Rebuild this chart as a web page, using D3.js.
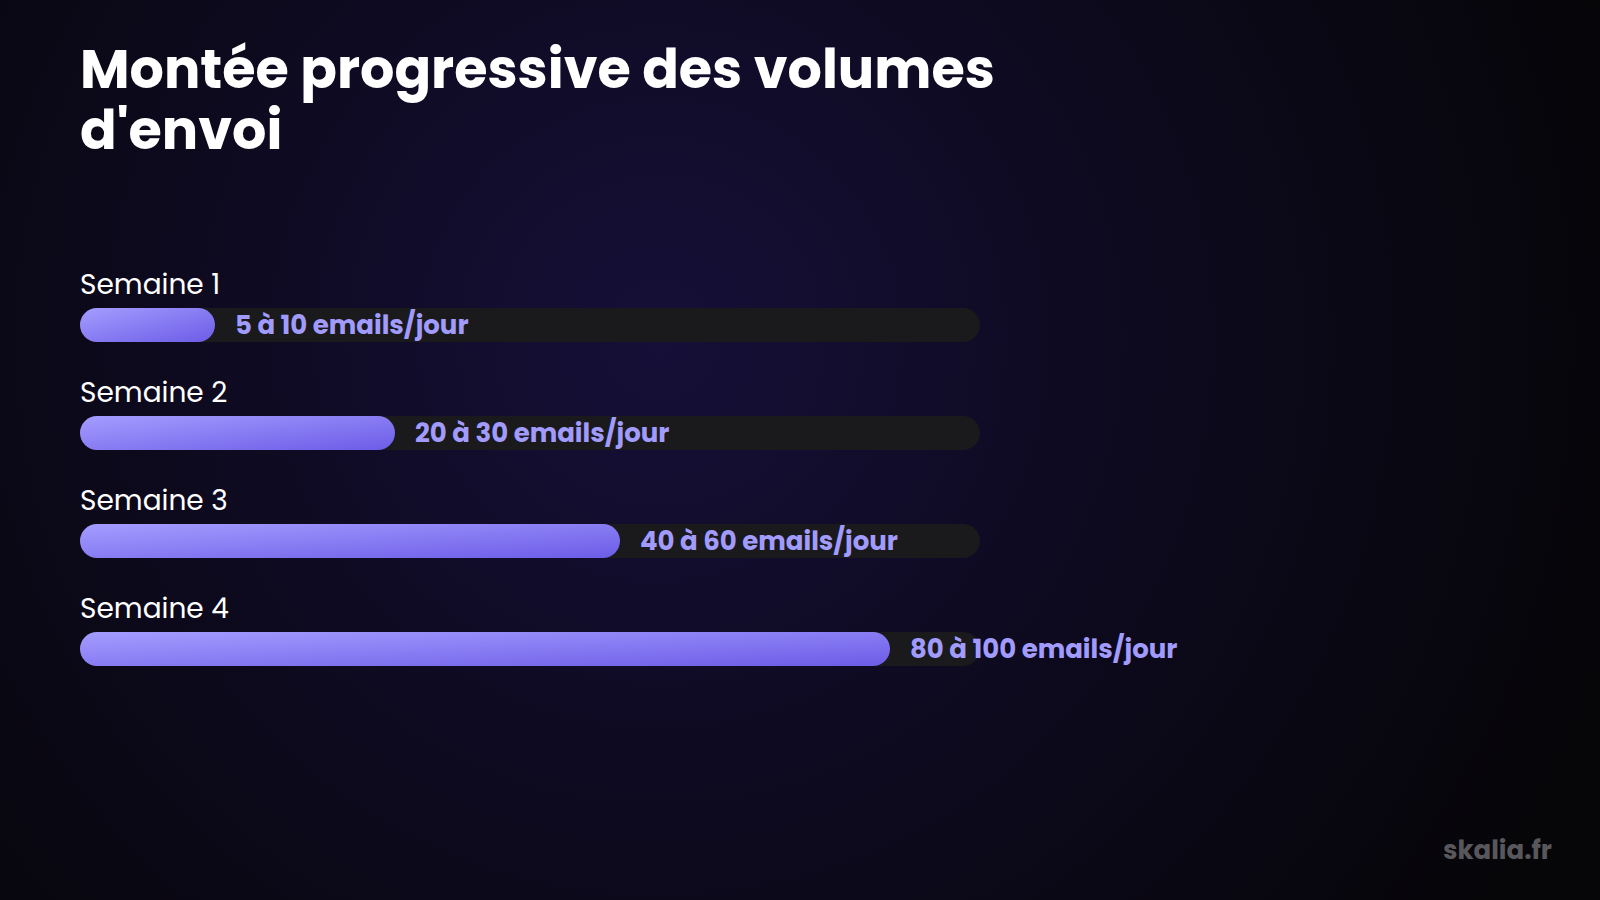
<!DOCTYPE html>
<html>
<head>
<meta charset="utf-8">
<script src="https://cdn.jsdelivr.net/npm/d3@7"></script>
<style>
  html, body { margin: 0; padding: 0; background: #07070b; }
  svg { display: block; }
</style>
</head>
<body>
<script>
// data
var titleLines = ["Montée progressive des volumes", "d'envoi"];
var weeks = ["Semaine 1", "Semaine 2", "Semaine 3", "Semaine 4"];
var progress = [15, 35, 60, 90];   // % of the track
var volumeLabels = ["5 à 10 emails/jour", "20 à 30 emails/jour", "40 à 60 emails/jour", "80 à 100 emails/jour"];
var brand = "skalia.fr";

var width = 1600, height = 900;
var margin = {left: 80};
var font = "Poppins, Inter, 'Open Sans', sans-serif";

var svg = d3.select("body").append("svg")
    .attr("width", width)
    .attr("height", height);

var defs = svg.append("defs");

// background glow
var bg = defs.append("radialGradient")
    .attr("id", "bg")
    .attr("gradientUnits", "userSpaceOnUse")
    .attr("cx", 660).attr("cy", 340).attr("r", 1000);
bg.append("stop").attr("offset", "0%").attr("stop-color", "#160f38");
bg.append("stop").attr("offset", "45%").attr("stop-color", "#0e0a20");
bg.append("stop").attr("offset", "100%").attr("stop-color", "#060508");

// bar fill
var fill = defs.append("linearGradient")
    .attr("id", "fill")
    .attr("x1", "0%").attr("y1", "0%")
    .attr("x2", "100%").attr("y2", "100%");
fill.append("stop").attr("offset", "0%").attr("stop-color", "#a49dff");
fill.append("stop").attr("offset", "100%").attr("stop-color", "#6c5ce7");

svg.append("rect")
    .attr("width", width).attr("height", height)
    .attr("fill", "url(#bg)");

// title, one text per line
svg.append("g")
    .selectAll("text")
    .data(titleLines)
    .join("text")
      .attr("x", margin.left)
      .attr("y", function(d, i) { return 88 + i * 61; })
      .attr("fill", "#ffffff")
      .style("font-family", font)
      .style("font-weight", 700)
      .style("font-size", "54px")
      .text(function(d) { return d; });

// scales
var x = d3.scaleLinear().domain([0, 100]).range([0, 900]);
var y = d3.scaleBand().domain(weeks).range([260, 260 + 108 * weeks.length]);
var barH = 34;

var rows = svg.append("g")
    .attr("transform", "translate(" + margin.left + ",0)")
    .selectAll("g")
    .data(weeks)
    .join("g")
      .attr("transform", function(d) { return "translate(0," + y(d) + ")"; });

rows.append("text")
    .attr("y", 34)
    .attr("fill", "#ffffff")
    .style("font-family", font)
    .style("font-size", "28px")
    .text(function(d) { return d; });

// track
rows.append("rect")
    .attr("y", 48)
    .attr("width", x(100))
    .attr("height", barH)
    .attr("rx", barH / 2)
    .attr("fill", "#1a1a1c");

// progress
rows.append("rect")
    .attr("y", 48)
    .attr("width", function(d, i) { return x(progress[i]); })
    .attr("height", barH)
    .attr("rx", barH / 2)
    .attr("fill", "url(#fill)");

rows.append("text")
    .attr("x", function(d, i) { return x(progress[i]) + 20; })
    .attr("y", 48 + barH / 2)
    .attr("dy", "0.33em")
    .attr("fill", "#a29bfe")
    .style("font-family", font)
    .style("font-weight", 700)
    .style("font-size", "26px")
    .text(function(d, i) { return volumeLabels[i]; });

// watermark
svg.append("text")
    .attr("x", 1552)
    .attr("y", 859)
    .attr("text-anchor", "end")
    .attr("fill", "#58585c")
    .style("font-family", font)
    .style("font-weight", 700)
    .style("font-size", "26px")
    .text(brand);
</script>
</body>
</html>
